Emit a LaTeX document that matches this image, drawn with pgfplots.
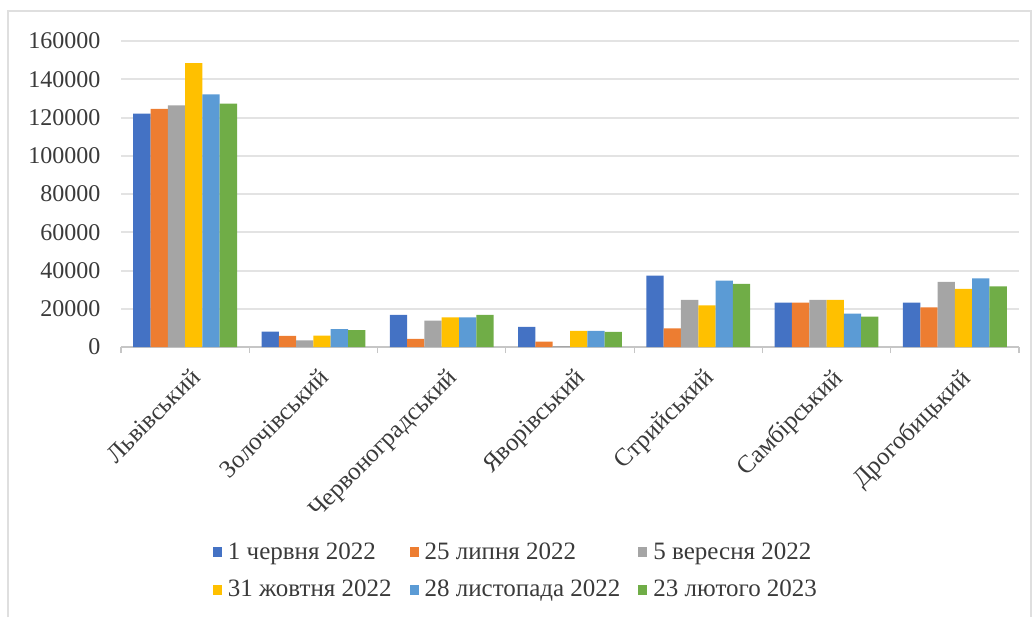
\documentclass[border=0pt]{standalone}
\usepackage{pgfplots}
\usepackage{pgfplotstable}
\pgfplotsset{compat=1.18}
\usepackage{fontspec}
\setmainfont{Liberation Serif}
\definecolor{c1}{HTML}{4472C4}
\definecolor{c2}{HTML}{ED7D31}
\definecolor{c3}{HTML}{A5A5A5}
\definecolor{c4}{HTML}{FFC000}
\definecolor{c5}{HTML}{5B9BD5}
\definecolor{c6}{HTML}{70AD47}
\definecolor{txt}{HTML}{3A3A3A}
\pgfplotstableread{
x a b c d e f
0 122000 124500 126400 148400 132100 127200
1 8000 5800 3500 6000 9300 8800
2 16800 4200 13800 15500 15500 16800
3 10500 2800 500 8500 8400 7900
4 37300 9800 24600 21800 34700 33000
5 23200 23200 24600 24600 17400 15900
6 23200 20700 34000 30400 35900 31700
}\barsdata
\begin{document}
\begin{tikzpicture}
\useasboundingbox (-60.5pt,-135pt) rectangle (457.5pt,173.5pt);
\draw[gray!25, line width=0.8pt] (-56.5pt,-135pt) -- (-56.5pt,168pt) -- (455pt,168pt) -- (455pt,-135pt);
\begin{axis}[
  scale only axis,
  width=449pt, height=153pt,
  ybar=0pt, bar width=8.65pt,
  xmin=-0.5, xmax=6.5,
  ymin=0, ymax=160000,
  ytick={0,20000,40000,60000,80000,100000,120000,140000,160000},
  yticklabels={0,20000,40000,60000,80000,100000,120000,140000,160000},
  scaled y ticks=false,
  axis lines*=left,
  y axis line style={draw=none},
  x axis line style={gray!45, line width=0.8pt, -},
  ymajorgrids,
  grid style={gray!22, line width=1pt},
  ytick style={draw=none},
  xtick={0,1,2,3,4,5,6},
  xtick style={draw=none},
  minor xtick={-0.5,0.5,1.5,2.5,3.5,4.5,5.5,6.5},
  minor x tick style={draw=gray!45, line width=0.6pt},
  minor tick length=3pt, tick align=outside,
  xticklabels={Львівський,Золочівський,Червоноградський,Яворівський,Стрийський,Самбірський,Дрогобицький},
  x tick label style={rotate=45, anchor=north east, font=\fontsize{12.5}{14}\selectfont, text=txt, xshift=1pt, yshift=-2pt},
  y tick label style={font=\fontsize{12}{13}\selectfont, text=txt, xshift=-2.5pt},
  legend columns=3,
  legend cell align=left,
  legend style={at={(0.441,-0.732)}, anchor=center, draw=none, font=\fontsize{12.5}{14}\selectfont, text=txt,
    /tikz/every even column/.append style={column sep=7pt}, row sep=5pt, column sep=1pt},
  legend image code/.code={\fill[#1] (0pt,-2.4pt) rectangle (4.5pt,2.4pt);},
]
\addplot[fill=c1, draw=none] table[x=x, y=a] {\barsdata};
\addplot[fill=c2, draw=none] table[x=x, y=b] {\barsdata};
\addplot[fill=c3, draw=none] table[x=x, y=c] {\barsdata};
\addplot[fill=c4, draw=none] table[x=x, y=d] {\barsdata};
\addplot[fill=c5, draw=none] table[x=x, y=e] {\barsdata};
\addplot[fill=c6, draw=none] table[x=x, y=f] {\barsdata};
\legend{1 червня 2022, 25 липня 2022, 5 вересня 2022, 31 жовтня 2022, 28 листопада 2022, 23 лютого 2023}
\end{axis}
\end{tikzpicture}
\end{document}
